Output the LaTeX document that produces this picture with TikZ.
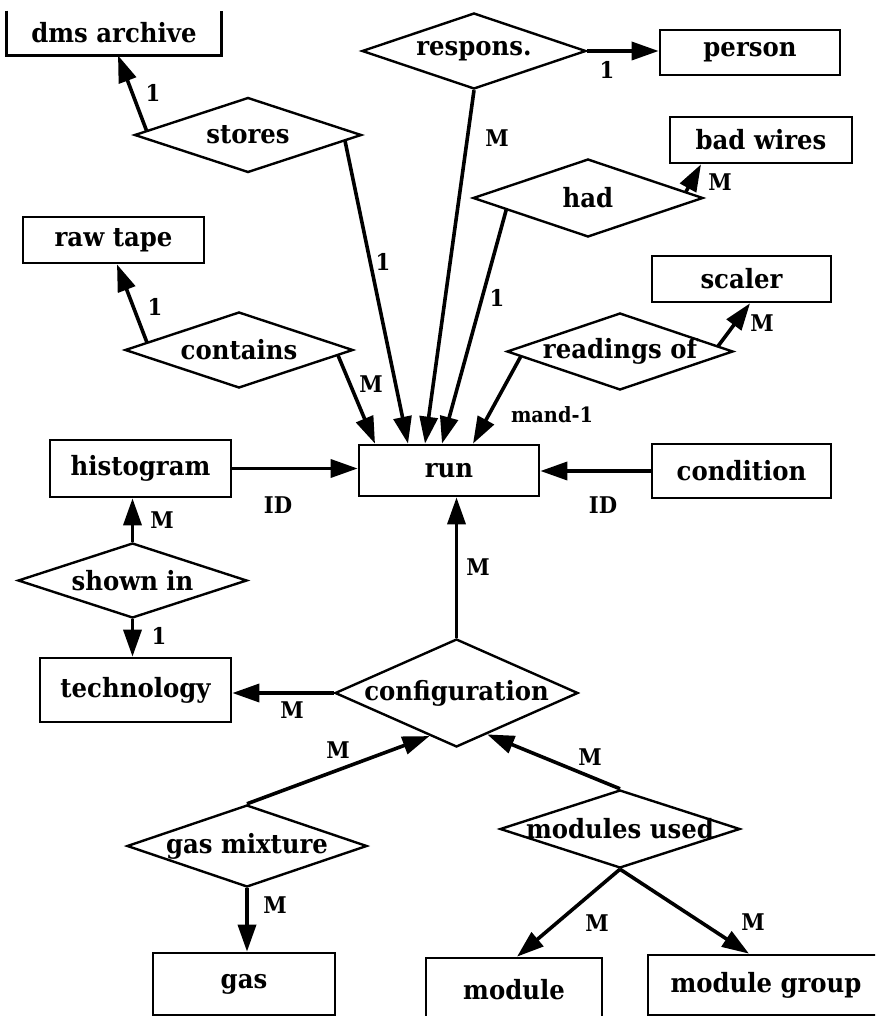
\documentclass[tikz,border=0pt]{standalone}
\usepackage{fontspec}
\setmainfont[FakeStretch=0.92]{DejaVu Serif}
\usetikzlibrary{arrows.meta,shapes.geometric,calc}
\newcommand{\boxfont}{\fontsize{26.5}{30}\selectfont\bfseries}
\newcommand{\cardfont}{\fontsize{23}{26}\selectfont\bfseries}
\newcommand{\smallcard}{\fontsize{21}{24}\selectfont\bfseries}
\begin{document}
\begin{tikzpicture}[x=1pt,y=-1pt,
  ent/.style={draw, line width=2.7pt, rectangle, inner sep=0pt, font=\boxfont},
  rel/.style={draw, line width=2.4pt, diamond, inner sep=0pt, font=\boxfont},
  conn/.style={line width=3.6pt, -{Triangle[length=27pt,width=18pt]}},
  card/.style={font=\cardfont, inner sep=0pt}]
\useasboundingbox (0,0) rectangle (875,1016);
\clip (0,0) rectangle (875,1016);
% entities
\node[ent, draw=none, minimum width=212pt, minimum height=42pt] (dms) at (114,33) {\makebox[0pt]{dms archive}};
\draw[line width=2.7pt] (dms.north west) |- (dms.south east) -- (dms.north east);
\node[ent, minimum width=180pt, minimum height=45pt] (person) at (750,52.5) {\makebox[0pt]{person}};
\node[ent, minimum width=182pt, minimum height=46pt] (badwires) at (761,140) {\makebox[0pt]{bad wires}};
\node[ent, minimum width=181pt, minimum height=46pt] (rawtape) at (113.5,240) {\makebox[0pt]{raw tape}};
\node[ent, minimum width=181pt, minimum height=57pt] (histogram) at (140.5,468.5) {\makebox[0pt]{histogram}};
\node[ent, minimum width=180pt, minimum height=51pt] (run) at (449,470.5) {\makebox[0pt]{run}};
\node[ent, minimum width=179pt, minimum height=46pt] (scaler) at (741.5,279) {\makebox[0pt]{scaler}};
\node[ent, minimum width=179pt, minimum height=54pt] (condition) at (741.5,471) {\makebox[0pt]{condition}};
\node[ent, minimum width=191pt, minimum height=64pt] (technology) at (135.5,690) {\makebox[0pt]{technology}};
\node[ent, minimum width=182pt, minimum height=62pt] (gas) at (244,984) {\makebox[0pt]{gas}};
\node[ent, minimum width=176pt, minimum height=64pt] (module) at (514,990) {\makebox[0pt]{module}};
\node[ent, minimum width=236pt, minimum height=60pt] (modgroup) at (766,985) {\makebox[0pt]{module group}};
% relationships
\node[rel, minimum width=227pt, minimum height=75pt] (stores) at (248,135) {\makebox[0pt]{stores}};
\node[rel, minimum width=224pt, minimum height=76pt] (respons) at (474,51) {\makebox[0pt]{respons.}};
\node[rel, minimum width=230pt, minimum height=78pt] (had) at (588,198) {\makebox[0pt]{had}};
\node[rel, minimum width=228pt, minimum height=76pt] (contains) at (239,350) {\makebox[0pt]{contains}};
\node[rel, minimum width=226pt, minimum height=77pt] (readings) at (620,351.5) {\makebox[0pt]{readings of}};
\node[rel, minimum width=229pt, minimum height=75pt] (shownin) at (132.5,580.5) {\makebox[0pt]{shown in}};
\node[rel, minimum width=243pt, minimum height=108pt] (config) at (456.5,693) {\makebox[0pt]{configuration}};
\node[rel, minimum width=240pt, minimum height=82pt] (gasmix) at (247,846) {\makebox[0pt]{gas mixture}};
\node[rel, minimum width=240pt, minimum height=78pt] (modused) at (620,829) {\makebox[0pt]{modules used}};
% connectors
\draw[conn] ($(stores.west)!0.115!(stores.north)$) -- ([xshift=4pt]dms.south);
\draw[conn] ($(stores.east)!0.154!(stores.south)$) -- ([xshift=-41pt]run.north);
\draw[conn] (respons.east) -- (respons.east -| person.west);
\draw[conn] (respons.south) -- ([xshift=-24pt]run.north);
\draw[conn] ($(had.east)!0.157!(had.north)$) -- ([xshift=-60pt]badwires.south);
\draw[conn] ($(had.west)!0.296!(had.south)$) -- ([xshift=-7pt]run.north);
\draw[conn] ($(contains.west)!0.2!(contains.north)$) -- ([xshift=3.5pt]rawtape.south);
\draw[conn] ($(contains.east)!0.14!(contains.south)$) -- ([xshift=-74pt]run.north);
\draw[conn] ($(readings.east)!0.14!(readings.north)$) -- ([xshift=8.5pt]scaler.south);
\draw[conn] ($(readings.west)!0.13!(readings.south)$) -- ([xshift=24pt]run.north);
\draw[conn] (histogram.east) -- (histogram.east -| run.west);
\draw[conn] (condition.west) -- (condition.west -| run.east);
\draw[conn] (shownin.north) -- (shownin.north |- histogram.south);
\draw[conn] (shownin.south) -- (shownin.south |- technology.north);
\draw[conn] (config.north) -- (config.north |- run.south);
\draw[conn] (config.west) -- (config.west -| technology.east);
\draw[conn] (gasmix.north) -- ($(config.west)!0.78!(config.south)$);
\draw[conn] (modused.north) -- ($(config.east)!0.75!(config.south)$);
\draw[conn] (gasmix.south) -- (gasmix.south |- gas.north);
\draw[conn] (modused.south) -- ([xshift=3pt]module.north);
\draw[conn] (modused.south) -- ([xshift=-17pt]modgroup.north);
% cardinality labels
\node[card] (c1) at (153,93) {1};
\node[card] (c2) at (383,262) {1};
\node[card] (c3) at (607,70) {1};
\node[card] (c4) at (497,138) {M};
\node[card] (c5) at (720,182) {M};
\node[card] (c6) at (497,298) {1};
\node[card] (c7) at (155,307) {1};
\node[card] (c8) at (371,384) {M};
\node[card] (c9) at (762,323) {M};
\node[card, font=\smallcard] (c10) at (552,415) {mand-1};
\node[card] (c11) at (278,505) {ID};
\node[card] (c12) at (603,505) {ID};
\node[card] (c13) at (162,520) {M};
\node[card] (c14) at (159,636) {1};
\node[card] (c15) at (478,567) {M};
\node[card] (c16) at (292,710) {M};
\node[card] (c17) at (338,750) {M};
\node[card] (c18) at (590,757) {M};
\node[card] (c19) at (275,905) {M};
\node[card] (c20) at (597,923) {M};
\node[card] (c21) at (753,922) {M};
\end{tikzpicture}
\end{document}
